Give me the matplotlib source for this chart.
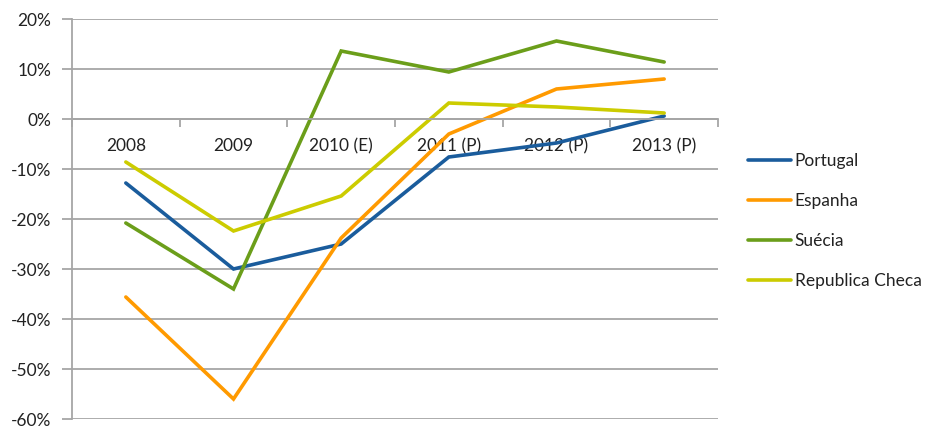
import matplotlib
matplotlib.use("Agg")
import matplotlib.pyplot as plt
from matplotlib.ticker import FuncFormatter, FixedLocator

categories = ["2008", "2009", "2010 (E)", "2011 (P)", "2012 (P)", "2013 (P)"]
portugal = [-12.8, -30.0, -25.0, -7.6, -4.8, 0.6]
espanha = [-35.6, -56.0, -23.8, -3.0, 6.0, 8.0]
suecia = [-20.8, -34.0, 13.6, 9.4, 15.6, 11.4]
rep_checa = [-8.6, -22.4, -15.4, 3.2, 2.4, 1.2]
series_names = ["Portugal", "Espanha", "Suécia", "Republica Checa"]
colors = ["#1A5C9C", "#FF9A00", "#6B9E1A", "#CCCC00"]

plt.rcParams['font.family'] = ['Lato', 'DejaVu Sans']
FS = 12.5

fig = plt.figure(figsize=(9.31, 4.28), dpi=100)
ax = fig.add_axes([72/931, 1-419/428, (718-72)/931, 400/428])

x = list(range(len(categories)))
for vals, name, c in zip([portugal, espanha, suecia, rep_checa], series_names, colors):
    ax.plot(x, vals, color=c, lw=2.6, label=name, solid_capstyle='round', solid_joinstyle='miter')

ax.set_xlim(-0.5, len(categories) - 0.5)
ax.set_ylim(-60, 20)
ax.set_yticks(range(-60, 21, 10))
ax.yaxis.set_major_formatter(FuncFormatter(lambda v, p: f"{int(v)}%"))
ax.grid(axis='y', color='#A6A6A6', lw=1.3)
ax.set_axisbelow(True)

for s in ['top', 'right']:
    ax.spines[s].set_visible(False)
ax.spines['left'].set_color('#A6A6A6')
ax.spines['left'].set_linewidth(1.3)
ax.spines['bottom'].set_position(('data', 0))
ax.spines['bottom'].set_color('#A6A6A6')
ax.spines['bottom'].set_linewidth(1.3)

ax.xaxis.set_major_locator(FixedLocator([i + 0.5 for i in range(-1, len(categories))]))
ax.xaxis.set_minor_locator(FixedLocator(x))
ax.set_xticklabels([''] * (len(categories) + 1))
ax.set_xticklabels(categories, minor=True)
ax.tick_params(axis='x', which='major', length=6, width=1.3, color='#A6A6A6', direction='out')
ax.tick_params(axis='x', which='minor', length=0, pad=14, labelsize=FS, labelcolor='#222222')
ax.tick_params(axis='y', length=7, width=1.3, color='#A6A6A6', pad=8, labelsize=FS, labelcolor='#222222')

leg = ax.legend(loc='center left', bbox_to_anchor=(748/931, 1-221/428), bbox_transform=fig.transFigure,
                frameon=False, fontsize=FS, handlelength=2.45, handletextpad=0.25,
                labelspacing=1.38, borderaxespad=0, borderpad=0)
for t in leg.get_texts():
    t.set_color('#222222')

fig.savefig("out.png", dpi=100)
